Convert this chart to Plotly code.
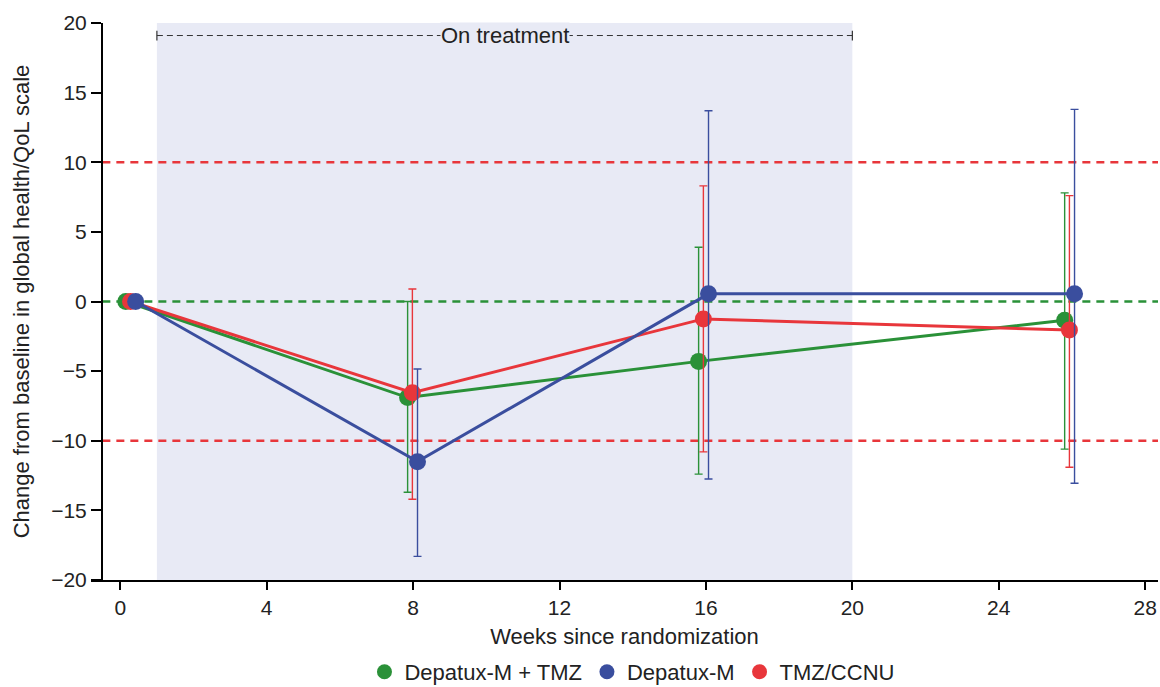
import plotly.graph_objects as go

# Data
series_names = ["Depatux-M + TMZ", "Depatux-M", "TMZ/CCNU"]
colors = {"Depatux-M + TMZ": "#2a9138", "Depatux-M": "#3a4e9e", "TMZ/CCNU": "#e8363b"}

weeks_green = [0.15, 7.85, 15.8, 25.8]
weeks_blue = [0.42, 8.12, 16.07, 26.07]
weeks_red = [0.28, 7.98, 15.93, 25.93]

mean_green = [0.0, -6.9, -4.3, -1.35]
mean_blue = [0.0, -11.5, 0.55, 0.55]
mean_red = [0.0, -6.55, -1.25, -2.05]

upper_green = [None, 0.0, 3.9, 7.8]
lower_green = [None, -13.7, -12.4, -10.6]
upper_blue = [None, -4.85, 13.7, 13.8]
lower_blue = [None, -18.3, -12.75, -13.05]
upper_red = [None, 0.9, 8.3, 7.6]
lower_red = [None, -14.2, -10.8, -11.9]

x_ticks = [0, 4, 8, 12, 16, 20, 24, 28]
y_ticks = [-20, -15, -10, -5, 0, 5, 10, 15, 20]
treatment_start, treatment_end = 1, 20
ref_levels = [10, -10, 0]
ref_colors = ["#e8363b", "#e8363b", "#2a9138"]

FONT = "Liberation Sans, Arial"
X_MIN, X_MAX = -0.8, 28.35
Y_AXIS_X = -0.49

def err(mean, up, lo):
    plus = [None if u is None else u - m for m, u in zip(mean, up)]
    minus = [None if l is None else m - l for m, l in zip(mean, lo)]
    return plus, minus

fig = go.Figure()

# reference dashed lines (drawn under the data)
for val, col in zip(ref_levels, ref_colors):
    fig.add_trace(go.Scatter(
        x=[Y_AXIS_X, X_MAX], y=[val, val], mode="lines", showlegend=False,
        hoverinfo="skip", line=dict(color=col, width=2.6, dash="8px,6px"),
    ))

data = [
    ("Depatux-M + TMZ", weeks_green, mean_green, upper_green, lower_green),
    ("TMZ/CCNU", weeks_red, mean_red, upper_red, lower_red),
    ("Depatux-M", weeks_blue, mean_blue, upper_blue, lower_blue),
]
for name, x, y, up, lo in data:
    plus, minus = err(y, up, lo)
    fig.add_trace(go.Scatter(
        x=x, y=y, name=name, mode="lines+markers", showlegend=False,
        line=dict(color=colors[name], width=3),
        marker=dict(color=colors[name], size=17),
        error_y=dict(type="data", symmetric=False, array=plus, arrayminus=minus,
                     color=colors[name], thickness=1.4, width=4),
    ))

# legend-only entries (marker only)
for name in series_names:
    fig.add_trace(go.Scatter(
        x=[None], y=[None], name=name, mode="markers",
        marker=dict(color=colors[name], size=15), showlegend=True,
    ))

fig.add_shape(type="rect", xref="x", yref="y", x0=treatment_start, x1=treatment_end,
              y0=-20, y1=20, fillcolor="#e8eaf5", line=dict(width=0), layer="below")

# On treatment bracket
yb = 19.1
fig.add_shape(type="line", xref="x", yref="y", x0=treatment_start, x1=treatment_end,
              y0=yb, y1=yb, line=dict(color="#333333", width=1, dash="6px,4px"))
for xv in (treatment_start, treatment_end):
    fig.add_shape(type="line", xref="x", yref="y", x0=xv, x1=xv, y0=yb - 0.35, y1=yb + 0.35,
                  line=dict(color="#333333", width=1.2))
fig.add_annotation(x=(treatment_start + treatment_end) / 2, y=yb, xref="x", yref="y",
                   text="On treatment", showarrow=False, bgcolor="#e8eaf5",
                   font=dict(size=22, color="#222222", family=FONT),
                   borderpad=0)

fig.update_layout(
    width=1160, height=687,
    margin=dict(l=91, r=2, t=23, b=107, autoexpand=False),
    plot_bgcolor="white", paper_bgcolor="white",
    font=dict(family=FONT, size=21, color="#222222"),
    showlegend=True,
    legend=dict(orientation="h", x=0.507, xanchor="center", y=-0.165, yanchor="middle",
                font=dict(size=22), traceorder="normal", itemwidth=30),
    xaxis=dict(range=[X_MIN, X_MAX], tickvals=x_ticks, showline=True, linecolor="black",
               linewidth=2, ticks="outside", ticklen=8, tickwidth=2, tickcolor="black",
               showgrid=False, zeroline=False, automargin=False, ticklabeloverflow="allow",
               tickfont=dict(size=21),
               title=dict(text="Weeks since randomization", standoff=10, font=dict(size=22))),
    yaxis=dict(range=[-20, 20], tickvals=y_ticks, showline=True, linecolor="black",
               linewidth=2, ticks="outside", ticklen=10, tickwidth=2, tickcolor="black",
               showgrid=False, zeroline=False, anchor="free", position=0.0103,
               tickformat="d", automargin=False, tickfont=dict(size=21),
               title=dict(text="Change from baseline in global health/QoL scale",
                          standoff=14, font=dict(size=22))),
)

fig.write_html("out.html", config={"displayModeBar": False},
               post_script="document.body.style.margin='0';document.body.style.overflow='hidden';")
